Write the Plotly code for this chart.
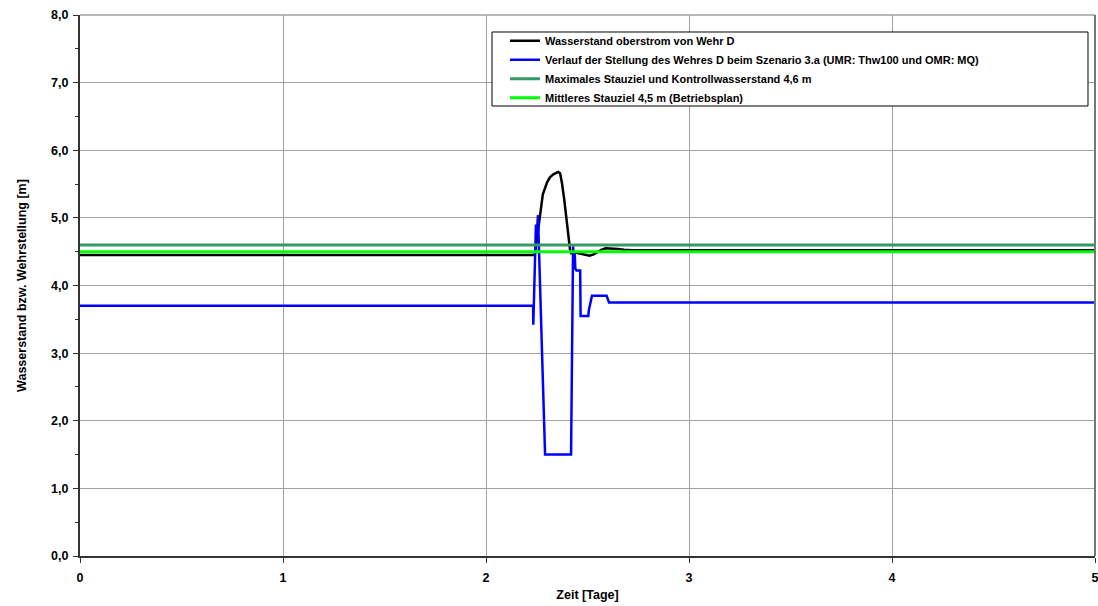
import plotly.graph_objects as go

# Wasserstand oberstrom von Wehr D (Zeit in Tagen, Wasserstand in m)
t_wasser = [0.0, 2.240, 2.245, 2.250, 2.258, 2.266, 2.280, 2.300, 2.315, 2.330,
            2.345, 2.355, 2.365, 2.374, 2.385, 2.395, 2.405, 2.414, 2.420, 2.430,
            2.450, 2.470, 2.490, 2.510, 2.530, 2.550, 2.570, 2.590, 2.620, 2.650,
            2.680, 2.720, 5.0]
h_wasser = [4.45, 4.45, 4.55, 4.67, 4.85, 5.00, 5.35, 5.52, 5.60, 5.64,
            5.66, 5.68, 5.66, 5.52, 5.28, 5.02, 4.75, 4.53, 4.48, 4.50,
            4.48, 4.47, 4.45, 4.44, 4.46, 4.50, 4.53, 4.55, 4.55, 4.54,
            4.53, 4.52, 4.52]

# Stellung des Wehres D, Szenario 3.a
t_wehr = [0.0, 2.232, 2.233, 2.246, 2.250, 2.256, 2.291, 2.419, 2.429, 2.434,
          2.437, 2.440, 2.446, 2.464, 2.466, 2.504, 2.507, 2.512, 2.516, 2.522,
          2.594, 2.606, 5.0]
h_wehr = [3.70, 3.70, 3.42, 4.90, 4.75, 5.04, 1.50, 1.50, 4.58, 4.30,
          4.48, 4.25, 4.22, 4.22, 3.55, 3.55, 3.64, 3.72, 3.78, 3.85,
          3.85, 3.75, 3.75]

# Stauziele
t_ziel = [0.0, 5.0]
h_max_stauziel = [4.6, 4.6]
h_mittel_stauziel = [4.5, 4.5]

namen = [
    "Wasserstand oberstrom von Wehr D",
    "Verlauf der Stellung des Wehres D beim Szenario 3.a (UMR: Thw100 und OMR: MQ)",
    "Maximales Stauziel und Kontrollwasserstand 4,6 m",
    "Mittleres Stauziel 4,5 m (Betriebsplan)",
]

x_ticks = [0, 1, 2, 3, 4, 5]
y_ticks = [0, 1, 2, 3, 4, 5, 6, 7, 8]

FONT = "Liberation Sans, Arial, sans-serif"
GRID = "#a0a0a0"

fig = go.Figure()
fig.add_trace(go.Scatter(x=t_wasser, y=h_wasser, mode="lines", name=namen[0],
                         line=dict(color="#000000", width=2.5)))
fig.add_trace(go.Scatter(x=t_wehr, y=h_wehr, mode="lines", name=namen[1],
                         line=dict(color="#0000ff", width=2.5)))
fig.add_trace(go.Scatter(x=t_ziel, y=h_max_stauziel, mode="lines", name=namen[2],
                         line=dict(color="#339966", width=3)))
fig.add_trace(go.Scatter(x=t_ziel, y=h_mittel_stauziel, mode="lines", name=namen[3],
                         line=dict(color="#00ff00", width=3)))

# Rahmen oben und rechts in Gitterfarbe
fig.add_shape(type="line", xref="paper", yref="paper", x0=0, x1=1, y0=1, y1=1,
              line=dict(color=GRID, width=1.5), layer="below")
fig.add_shape(type="line", xref="paper", yref="paper", x0=1, x1=1, y0=0, y1=1,
              line=dict(color="#777777", width=2), layer="above")

# Legendenrahmen
fig.add_shape(type="rect", xref="paper", yref="paper",
              x0=0.4059, x1=0.9931, y0=0.8318, y1=0.9686,
              line=dict(color="#000000", width=1), fillcolor="#ffffff",
              layer="above")

axis_common = dict(
    showgrid=True, gridcolor=GRID, gridwidth=1,
    showline=True, linecolor="#333333", linewidth=2,
    ticks="outside", ticklen=5, tickcolor="#333333", tickwidth=1,
    zeroline=False, automargin=False,
    tickfont=dict(family=FONT, size=12.5, color="#000000", weight="bold"),
)

fig.update_xaxes(range=[0, 5], tickvals=x_ticks, tickformat="d",
                 ticklabelstandoff=4, ticklabeloverflow="allow",
                 title=dict(text="Zeit [Tage]", standoff=6,
                            font=dict(family=FONT, size=12.5, color="#000000", weight="bold")),
                 **axis_common)
fig.update_yaxes(range=[0, 8], tickvals=y_ticks, tickformat=".1f",
                 ticklabelstandoff=2,
                 minor=dict(dtick=0.5, ticks="outside", ticklen=3, tickcolor="#333333",
                            showgrid=False),
                 title=dict(text="Wasserstand bzw. Wehrstellung [m]", standoff=22,
                            font=dict(family=FONT, size=12.5, color="#000000", weight="bold")),
                 **axis_common)

fig.update_layout(
    width=1098, height=606,
    margin=dict(l=80, r=3, t=15, b=50),
    plot_bgcolor="#ffffff", paper_bgcolor="#ffffff",
    separators=",.",
    showlegend=True,
    legend=dict(x=0.4187, y=0.979, xanchor="left", yanchor="top",
                bgcolor="rgba(0,0,0,0)", borderwidth=0, itemwidth=30,
                tracegroupgap=0,
                font=dict(family=FONT, size=11, color="#000000", weight="bold")),
)

fig.write_html("out.html")
